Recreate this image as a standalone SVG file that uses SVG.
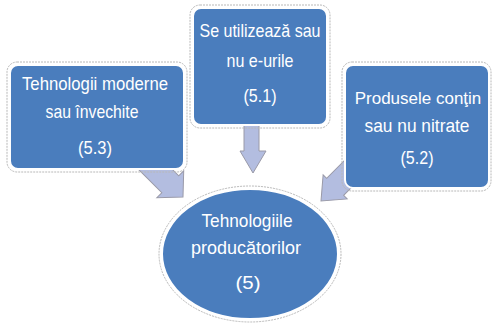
<svg xmlns="http://www.w3.org/2000/svg" width="493" height="323" viewBox="0 0 493 323">
<style>
.box{fill:#4a7dbd;stroke:#ffffff;stroke-width:2}
.halo{fill:none;stroke:#b8b8b8;stroke-width:1;stroke-dasharray:2 1}
.arr{fill:#b3bde0;stroke:#9a9aa8;stroke-width:1}
.t{font-family:"Liberation Sans",Arial,sans-serif;font-size:19px;fill:#ffffff;text-anchor:middle}
</style>
<rect width="493" height="323" fill="#ffffff"/>
<g id="connectors">
<polygon class="arr" points="244,110 259,110 259,151 266,151 253,173 240,151 244,151"/>
<polygon class="arr" transform="translate(183,197) rotate(45)" points="-75,-12 -18,-12 -18,-19 0,0 -18,19 -18,12 -75,12"/>
<polygon class="arr" transform="translate(321,201) rotate(135)" points="-70,-12 -20,-12 -20,-17 0,0 -20,17 -20,12 -70,12"/>
</g>
<g id="n53">
<rect class="halo" x="7" y="62" width="180" height="110" rx="10"/>
<rect class="box" x="10" y="65" width="174" height="104" rx="8"/>
<text class="t" x="95" y="90" textLength="146" lengthAdjust="spacingAndGlyphs">Tehnologii moderne</text>
<text class="t" x="92" y="118" textLength="93" lengthAdjust="spacingAndGlyphs">sau învechite</text>
<text class="t" x="95" y="154" textLength="34" lengthAdjust="spacingAndGlyphs">(5.3)</text>
</g>
<g id="n51">
<rect class="halo" x="190" y="5" width="140" height="123" rx="10"/>
<rect class="box" x="193" y="8" width="134" height="117" rx="8"/>
<text class="t" x="260" y="37" textLength="121" lengthAdjust="spacingAndGlyphs">Se utilizează sau</text>
<text class="t" x="260" y="67" textLength="67" lengthAdjust="spacingAndGlyphs">nu e-urile</text>
<text class="t" x="260" y="102" textLength="33" lengthAdjust="spacingAndGlyphs">(5.1)</text>
</g>
<g id="n52">
<rect class="halo" x="342" y="62" width="149" height="129" rx="10"/>
<rect class="box" x="345" y="65" width="144" height="123" rx="8"/>
<text class="t" x="418" y="104" style="font-size:17px">Produsele conţin</text>
<text class="t" x="417" y="132" textLength="105" lengthAdjust="spacingAndGlyphs">sau nu nitrate</text>
<text class="t" x="417" y="164" textLength="33" lengthAdjust="spacingAndGlyphs">(5.2)</text>
</g>
<g id="n5">
<ellipse class="halo" cx="250" cy="254" rx="91" ry="68"/>
<ellipse class="box" cx="250" cy="254" rx="88" ry="65"/>
<text class="t" x="247" y="227" textLength="91" lengthAdjust="spacingAndGlyphs">Tehnologiile</text>
<text class="t" x="246" y="254" textLength="110" lengthAdjust="spacingAndGlyphs">producătorilor</text>
<text class="t" x="248" y="289" textLength="25" lengthAdjust="spacingAndGlyphs">(5)</text>
</g>
</svg>
